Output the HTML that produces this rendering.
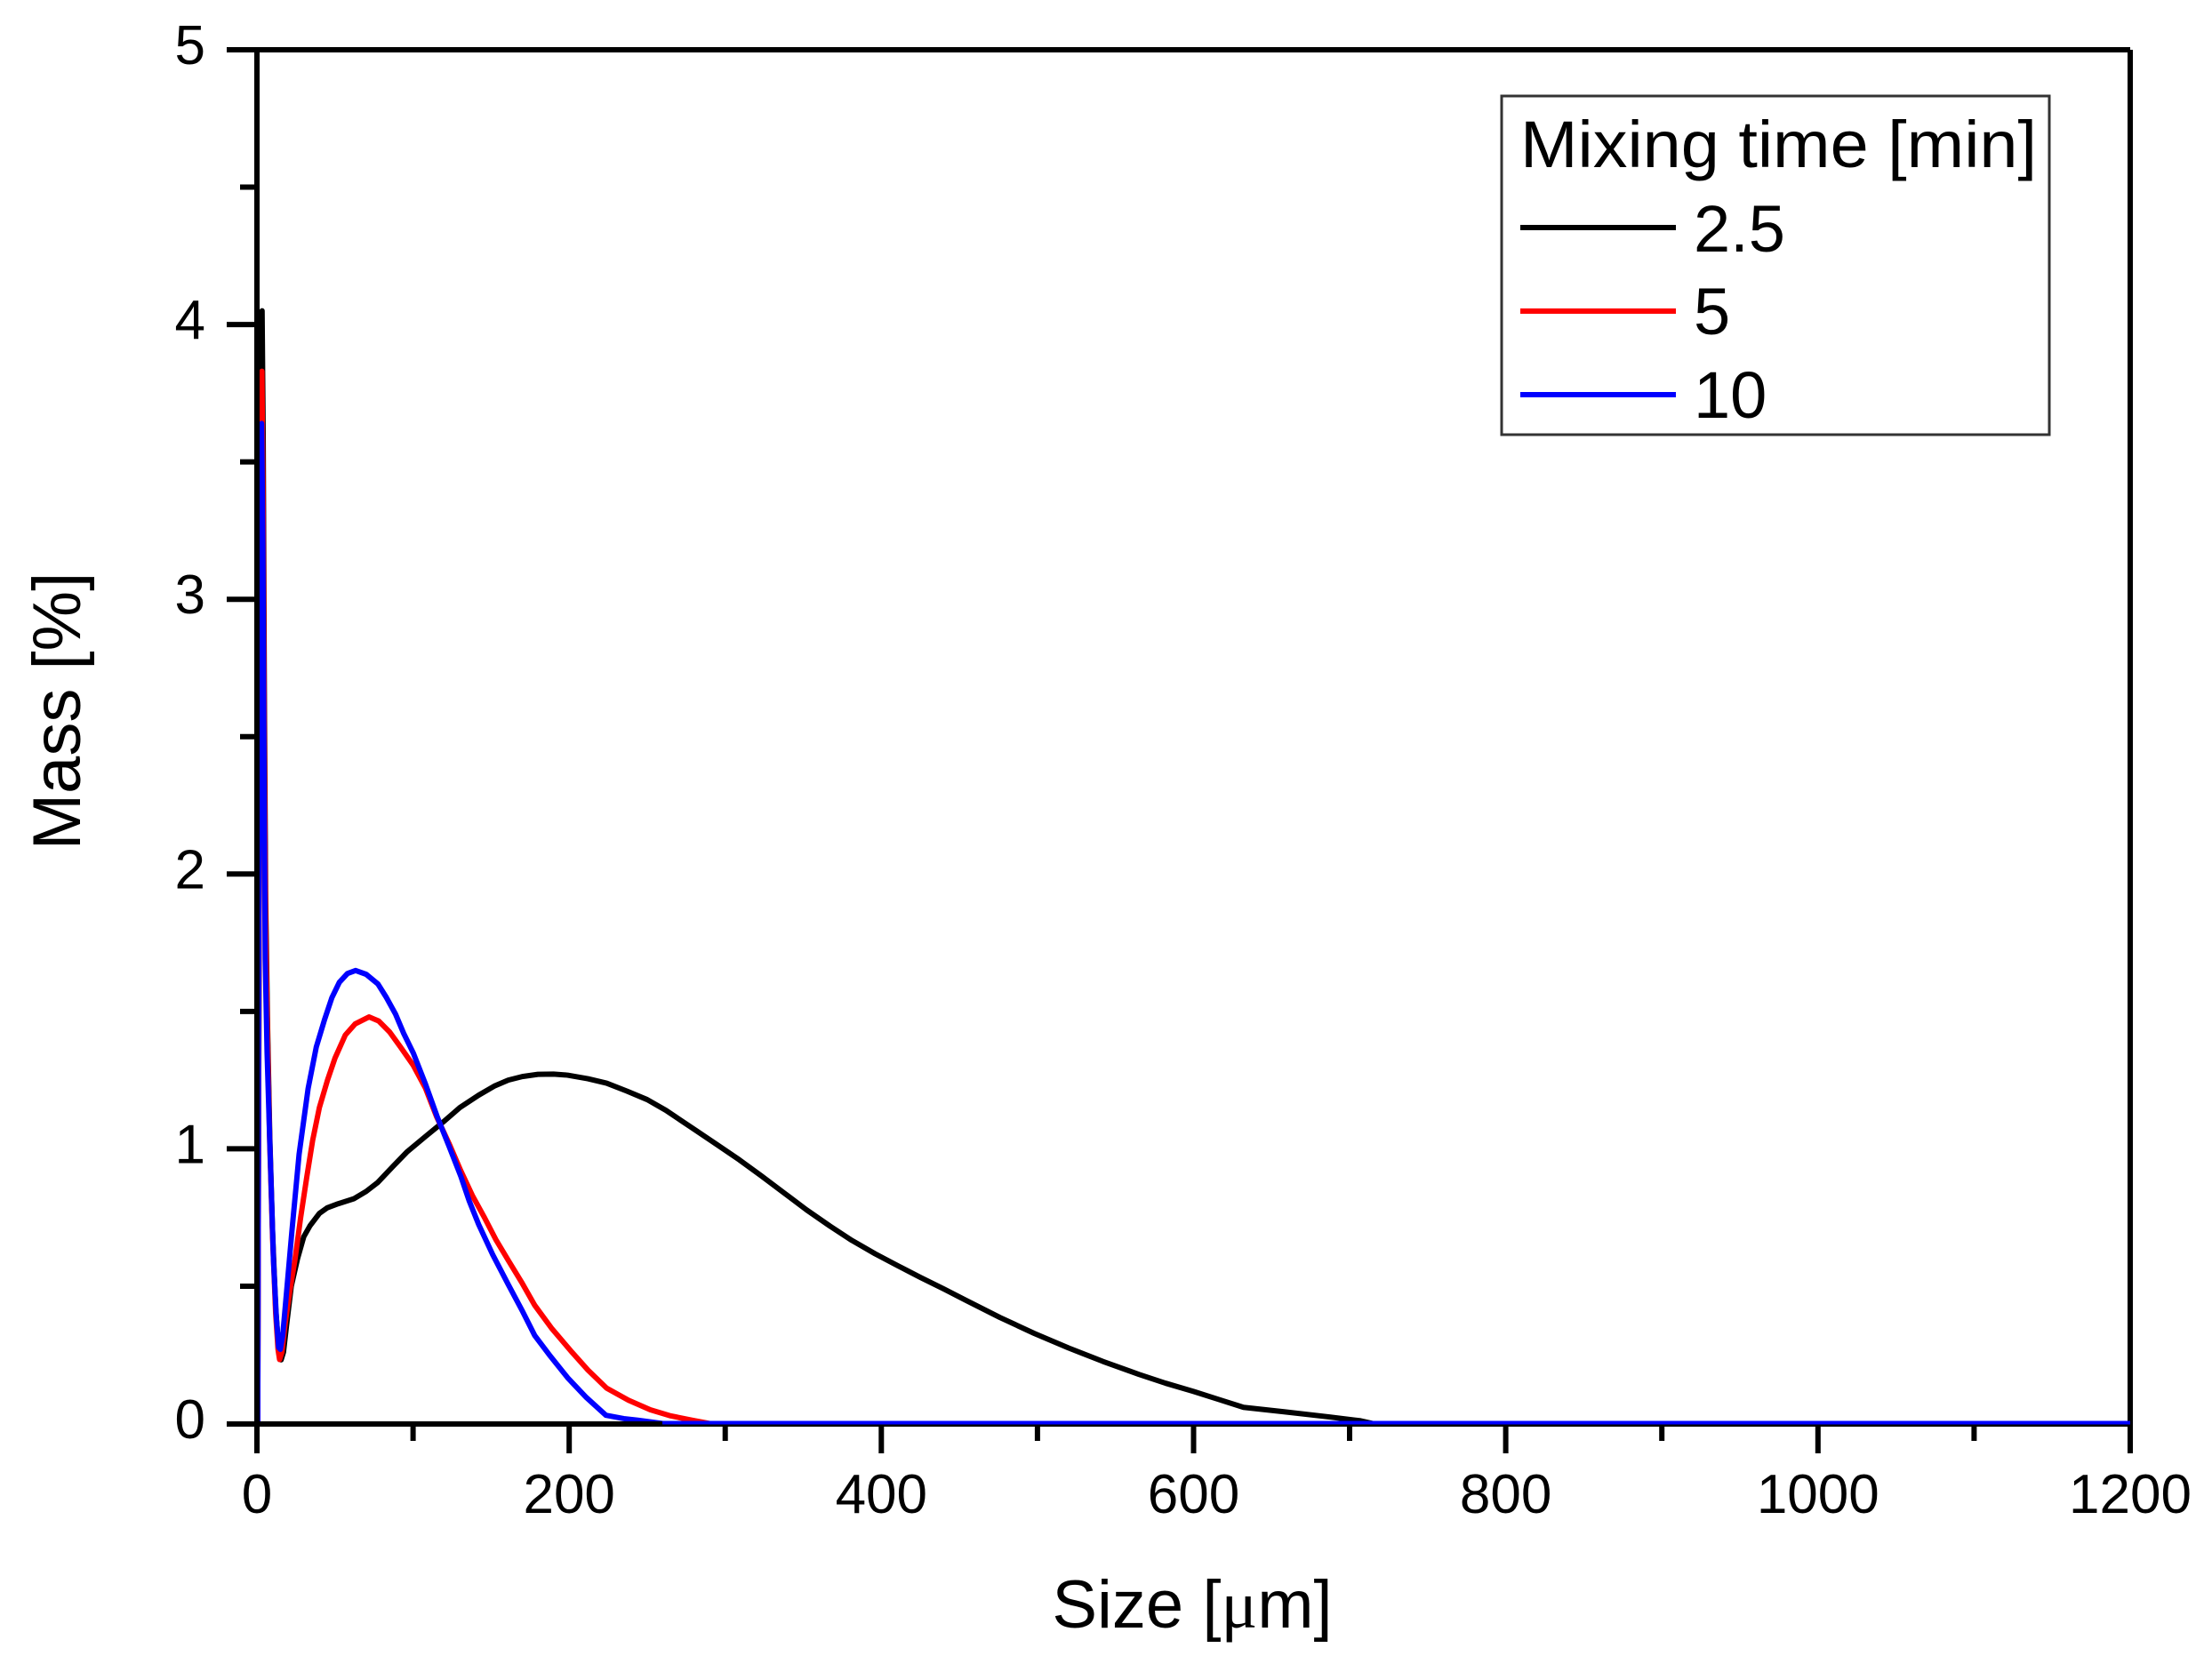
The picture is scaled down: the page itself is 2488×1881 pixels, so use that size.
<!DOCTYPE html>
<html>
<head>
<meta charset="utf-8">
<style>
  html, body { margin: 0; padding: 0; background: #ffffff; }
  svg { display: block; }
  text { font-family: "Liberation Sans", Arial, sans-serif; fill: #000; }
</style>
</head>
<body>
<svg width="2488" height="1881" viewBox="0 0 2488 1881" xmlns="http://www.w3.org/2000/svg">
  <rect x="0" y="0" width="2488" height="1881" fill="#ffffff"/>

  <!-- Data curves (data coords: x in µm, y in %) -->
  <g transform="translate(289,1601.5) scale(1.7558,-309.1)" fill="none" stroke-linejoin="round" stroke-linecap="round">
    <polyline vector-effect="non-scaling-stroke" stroke="#000000" stroke-width="6"
      points="0.5,0 1.5,2.0 2.5,3.5 3.3,4.05 4.0,3.6 4.8,2.6 5.6,1.9 6.8,1.45 8.2,1.05 10,0.7 12,0.42 14,0.27 15.5,0.232 17,0.26 19,0.36 22,0.5 26,0.6 30,0.68 34,0.72 40,0.765 45,0.785 52,0.8 62,0.818 70,0.845 77.5,0.878 87,0.935 96,0.988 108,1.045 119,1.096 130,1.15 142,1.195 152,1.228 161,1.25 170,1.263 180,1.271 190,1.272 199,1.268 212,1.255 224,1.239 237,1.21 250,1.179 262,1.14 273,1.098 283,1.06 294,1.018 309,0.96 323,0.902 338,0.838 352,0.778 367,0.719 381,0.667 396,0.618 411,0.573 425,0.532 440,0.49 454,0.449 476,0.386 498,0.328 520,0.275 542,0.226 565,0.179 582,0.147 600,0.117 616,0.088 632,0.059 658,0.043 687,0.024 707,0.01 715,0 1200,0"/>
    <polyline vector-effect="non-scaling-stroke" stroke="#ff0000" stroke-width="6"
      points="0.5,0 1.5,2 2.5,3.4 3.2,3.83 4.0,3.3 4.8,2.4 5.6,1.8 6.8,1.4 8.2,1.02 10,0.68 12,0.4 13.5,0.27 14.5,0.233 16,0.26 18,0.36 21,0.48 24.3,0.594 28,0.75 32,0.9 35.7,1.031 40,1.15 45.2,1.25 50,1.33 56.6,1.414 63,1.455 71.8,1.48 78,1.465 85,1.425 92,1.37 100,1.305 108,1.22 115,1.118 123,1.02 130.6,0.92 138,0.83 146,0.747 153,0.67 161,0.594 170,0.51 178,0.43 189,0.345 201,0.265 212,0.195 224,0.129 238,0.085 252,0.05 265,0.028 279,0.012 290,0 1200,0"/>
    <polyline vector-effect="non-scaling-stroke" stroke="#0000ff" stroke-width="6"
      points="0.5,0 1.3,2 2.3,3.3 3.0,3.64 3.8,3.2 4.6,2.3 5.3,1.69 6.5,1.35 8.2,1.03 10.6,0.594 12.5,0.38 13.9,0.277 15,0.27 16.5,0.32 19,0.48 22.4,0.70 27,0.98 32.8,1.22 38,1.37 43.3,1.47 48,1.55 52.8,1.606 58,1.638 63.2,1.649 70,1.635 77.5,1.60 83,1.55 88.8,1.49 94,1.42 100.2,1.348 108,1.235 115.4,1.118 123,1.01 130.6,0.90 136,0.81 142,0.725 151,0.615 161,0.506 170,0.41 178,0.32 188,0.245 199,0.167 211,0.095 223.6,0.03 235,0.018 244,0.012 260,0 1200,0"/>
  </g>

  <!-- Axes frame -->
  <g stroke="#000" stroke-width="6" fill="none" stroke-linecap="butt">
    <line x1="289" y1="56" x2="2396" y2="56"/>
    <line x1="2396" y1="56" x2="2396" y2="1602"/>
    <line x1="289" y1="53" x2="289" y2="1602"/>
    <line x1="286" y1="1602" x2="2399" y2="1602"/>
    <!-- Y major ticks -->
    <line x1="255" y1="56" x2="289" y2="56"/>
    <line x1="255" y1="365.1" x2="289" y2="365.1"/>
    <line x1="255" y1="674.2" x2="289" y2="674.2"/>
    <line x1="255" y1="983.3" x2="289" y2="983.3"/>
    <line x1="255" y1="1292.4" x2="289" y2="1292.4"/>
    <line x1="255" y1="1602" x2="289" y2="1602"/>
    <!-- Y minor ticks -->
    <line x1="270" y1="210.5" x2="289" y2="210.5"/>
    <line x1="270" y1="519.6" x2="289" y2="519.6"/>
    <line x1="270" y1="828.7" x2="289" y2="828.7"/>
    <line x1="270" y1="1137.9" x2="289" y2="1137.9"/>
    <line x1="270" y1="1447" x2="289" y2="1447"/>
    <!-- X major ticks -->
    <line x1="289" y1="1602" x2="289" y2="1635"/>
    <line x1="640.2" y1="1602" x2="640.2" y2="1635"/>
    <line x1="991.3" y1="1602" x2="991.3" y2="1635"/>
    <line x1="1342.5" y1="1602" x2="1342.5" y2="1635"/>
    <line x1="1693.6" y1="1602" x2="1693.6" y2="1635"/>
    <line x1="2044.8" y1="1602" x2="2044.8" y2="1635"/>
    <line x1="2396" y1="1602" x2="2396" y2="1635"/>
    <!-- X minor ticks -->
    <line x1="464.6" y1="1602" x2="464.6" y2="1621"/>
    <line x1="815.7" y1="1602" x2="815.7" y2="1621"/>
    <line x1="1166.9" y1="1602" x2="1166.9" y2="1621"/>
    <line x1="1518" y1="1602" x2="1518" y2="1621"/>
    <line x1="1869.2" y1="1602" x2="1869.2" y2="1621"/>
    <line x1="2220.4" y1="1602" x2="2220.4" y2="1621"/>
  </g>

  <!-- Blue baseline over axis (as in reference) -->
  <line x1="745" y1="1600.5" x2="2396" y2="1600.5" stroke="#0000ff" stroke-width="4"/>

  <!-- Y tick labels -->
  <g font-size="62" text-anchor="end">
    <text x="231" y="1618">0</text>
    <text x="231" y="1308.4">1</text>
    <text x="231" y="999.3">2</text>
    <text x="231" y="690.2">3</text>
    <text x="231" y="381.1">4</text>
    <text x="231" y="72">5</text>
  </g>

  <!-- X tick labels -->
  <g font-size="62" text-anchor="middle">
    <text x="289" y="1702">0</text>
    <text x="640.2" y="1702">200</text>
    <text x="991.3" y="1702">400</text>
    <text x="1342.5" y="1702">600</text>
    <text x="1693.6" y="1702">800</text>
    <text x="2044.8" y="1702">1000</text>
    <text x="2396" y="1702">1200</text>
  </g>

  <!-- Axis titles -->
  <text x="1341" y="1831" font-size="76" text-anchor="middle">Size [<tspan font-family="Liberation Serif, serif">μ</tspan>m]</text>
  <text transform="translate(90,800) rotate(-90)" x="0" y="0" font-size="76" text-anchor="middle">Mass [%]</text>

  <!-- Legend -->
  <rect x="1689" y="108" width="616" height="381" fill="#ffffff" stroke="#333333" stroke-width="3"/>
  <text x="1710" y="188" font-size="74" textLength="581" lengthAdjust="spacingAndGlyphs">Mixing time [min]</text>
  <line x1="1710" y1="256" x2="1885" y2="256" stroke="#000000" stroke-width="6"/>
  <line x1="1710" y1="350" x2="1885" y2="350" stroke="#ff0000" stroke-width="6"/>
  <line x1="1710" y1="444" x2="1885" y2="444" stroke="#0000ff" stroke-width="6"/>
  <g font-size="74">
    <text x="1905" y="283">2.5</text>
    <text x="1905" y="376">5</text>
    <text x="1905" y="470">10</text>
  </g>
</svg>
</body>
</html>
